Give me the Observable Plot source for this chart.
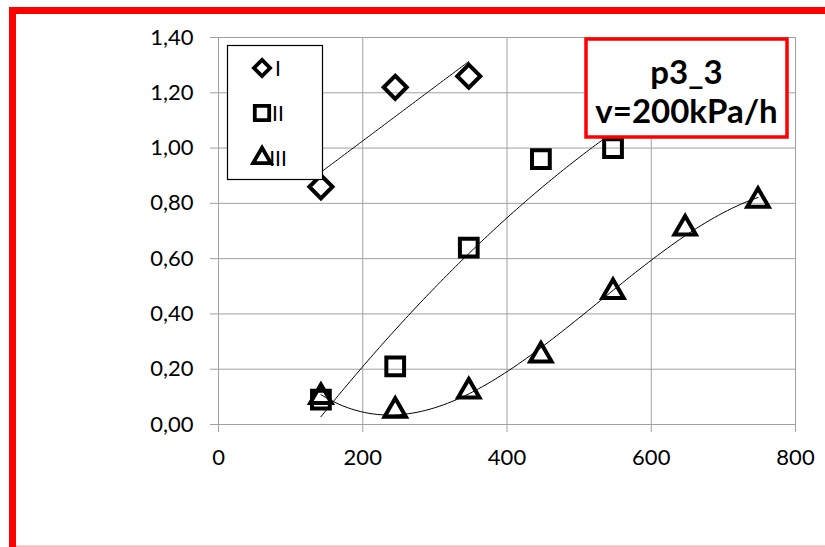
<!DOCTYPE html>
<html>
<head>
<meta charset="utf-8">
<script src="https://cdn.jsdelivr.net/npm/d3@7"></script>
<script src="https://cdn.jsdelivr.net/npm/@observablehq/plot@0.6"></script>
<style>
  html, body { margin: 0; padding: 0; background: #fff; }
  #chart { width: 825px; height: 547px; overflow: hidden; }
</style>
</head>
<body>
<div id="chart"></div>
<script>
// ---- data ----
const xI = [142, 245, 347];
const yI = [0.86, 1.22, 1.26];
const xII = [142, 245, 347, 447, 547];
const yII = [0.09, 0.21, 0.64, 0.96, 1.00];
const xIII = [142, 245, 347, 447, 547, 647, 748];
const yIII = [0.10, 0.05, 0.12, 0.25, 0.48, 0.71, 0.81];
const seriesNames = ["I", "II", "III"];
const xTicks = [0, 200, 400, 600, 800];
const yTicks = [0, 0.2, 0.4, 0.6, 0.8, 1.0, 1.2, 1.4];
const titleLines = ["p3_3", "v=200kPa/h"];

// ---- least-squares polynomial trendlines (like Excel) ----
function polyfit(xs, ys, deg) {
  const mx = d3.mean(xs), sx = 100;
  const n = deg + 1;
  const A = Array.from({length: n}, () => new Array(n + 1).fill(0));
  xs.forEach((x, k) => {
    const u = (x - mx) / sx;
    for (let i = 0; i < n; i++) {
      for (let j = 0; j < n; j++) A[i][j] += Math.pow(u, i + j);
      A[i][n] += Math.pow(u, i) * ys[k];
    }
  });
  for (let i = 0; i < n; i++) {
    let p = i;
    for (let r = i + 1; r < n; r++) if (Math.abs(A[r][i]) > Math.abs(A[p][i])) p = r;
    [A[i], A[p]] = [A[p], A[i]];
    for (let r = 0; r < n; r++) {
      if (r === i) continue;
      const f = A[r][i] / A[i][i];
      for (let c = i; c <= n; c++) A[r][c] -= f * A[i][c];
    }
  }
  const coef = A.map((row, i) => row[n] / row[i]);
  return x => { const u = (x - mx) / sx; return coef.reduce((s, c, i) => s + c * Math.pow(u, i), 0); };
}
function trend(xs, ys, deg) {
  const f = polyfit(xs, ys, deg);
  const x0 = d3.min(xs), x1 = d3.max(xs);
  return d3.range(101).map(i => { const x = x0 + (x1 - x0) * i / 100; return {x, y: f(x)}; });
}
const pts = (xs, ys) => xs.map((x, i) => ({x, y: ys[i]}));

const tI = trend(xI, yI, 1), tII = trend(xII, yII, 2), tIII = trend(xIII, yIII, 3);
const symbols = ["diamond2", "square2", "triangle2"];
const radii = [10.4, 11.3, 10.2];
const grid = "#a0a0a0";

const chart = Plot.plot({
  width: 825, height: 547,
  marginLeft: 218, marginRight: 30, marginTop: 37, marginBottom: 123,
  style: {fontFamily: "Lato, 'Open Sans', sans-serif", fontSize: "22px", color: "#000", background: "#fff"},
  x: {domain: [0, 800]},
  y: {domain: [0, 1.4]},
  marks: [
    Plot.gridX(xTicks, {stroke: grid, strokeOpacity: 1, strokeWidth: 1}),
    Plot.gridY(yTicks, {stroke: grid, strokeOpacity: 1, strokeWidth: 1}),
    Plot.line(tI, {x: "x", y: "y", stroke: "#000", strokeWidth: 1}),
    Plot.line(tII, {x: "x", y: "y", stroke: "#000", strokeWidth: 1}),
    Plot.line(tIII, {x: "x", y: "y", stroke: "#000", strokeWidth: 1}),
    Plot.dot(pts(xI, yI), {x: "x", y: "y", symbol: symbols[0], r: radii[0], stroke: "#000", strokeWidth: 4, fill: "none"}),
    Plot.dot(pts(xII, yII), {x: "x", y: "y", symbol: symbols[1], r: radii[1], stroke: "#000", strokeWidth: 4, fill: "none"}),
    Plot.dot(pts(xIII, yIII), {x: "x", y: "y", symbol: symbols[2], r: radii[2], stroke: "#000", strokeWidth: 4, fill: "none"}),
    Plot.axisX(xTicks, {tickSize: 8, tickPadding: 17, stroke: grid, fill: "#000", label: null, fontSize: 22}),
    Plot.axisY(yTicks, {tickSize: 8, tickPadding: 17, stroke: grid, fill: "#000", label: null, fontSize: 22,
      tickFormat: d => d.toFixed(2).replace(".", ",")})
  ]
});
document.getElementById("chart").appendChild(chart);

// ---- overlays: legend, title box, red frame ----
const svg = d3.select(chart);
const ff = "Lato, 'Open Sans', sans-serif";

// legend
const lg = svg.append("g");
lg.append("rect").attr("x", 227.5).attr("y", 45.5).attr("width", 95).attr("height", 134)
  .attr("fill", "#fff").attr("stroke", "#000").attr("stroke-width", 1.2);
const legSymbols = [d3.symbolDiamond2, d3.symbolSquare2, d3.symbolTriangle2];
const legSizes = [165, 265, 225];
const legY = [68, 113, 158];
seriesNames.forEach((name, i) => {
  lg.append("path").attr("d", d3.symbol(legSymbols[i], legSizes[i])())
    .attr("transform", `translate(262,${legY[i]})`)
    .attr("fill", "none").attr("stroke", "#000").attr("stroke-width", 3.8);
  lg.append("text").attr("x", 278).attr("y", legY[i]).attr("dy", "0.36em")
    .attr("font-family", ff).attr("font-size", 21).attr("fill", "#000").text(name);
});

// title box
const tg = svg.append("g");
tg.append("rect").attr("x", 586).attr("y", 39).attr("width", 201).attr("height", 98)
  .attr("fill", "#fff").attr("stroke", "#ff0000").attr("stroke-width", 3.5);
const tY = [84, 123];
titleLines.forEach((t, i) => {
  tg.append("text").attr("x", 686.5).attr("y", tY[i]).attr("text-anchor", "middle")
    .attr("font-family", ff).attr("font-weight", "bold").attr("font-size", 33).attr("fill", "#000").text(t);
});

// outer red frame (top + left thick, bottom thin pink)
svg.append("rect").attr("x", 9).attr("y", 7).attr("width", 816).attr("height", 7).attr("fill", "#ff0000");
svg.append("rect").attr("x", 9).attr("y", 7).attr("width", 7).attr("height", 540).attr("fill", "#ff0000");
svg.append("rect").attr("x", 16).attr("y", 545.5).attr("width", 809).attr("height", 1.5).attr("fill", "#ffb0b0");
</script>
</body>
</html>
